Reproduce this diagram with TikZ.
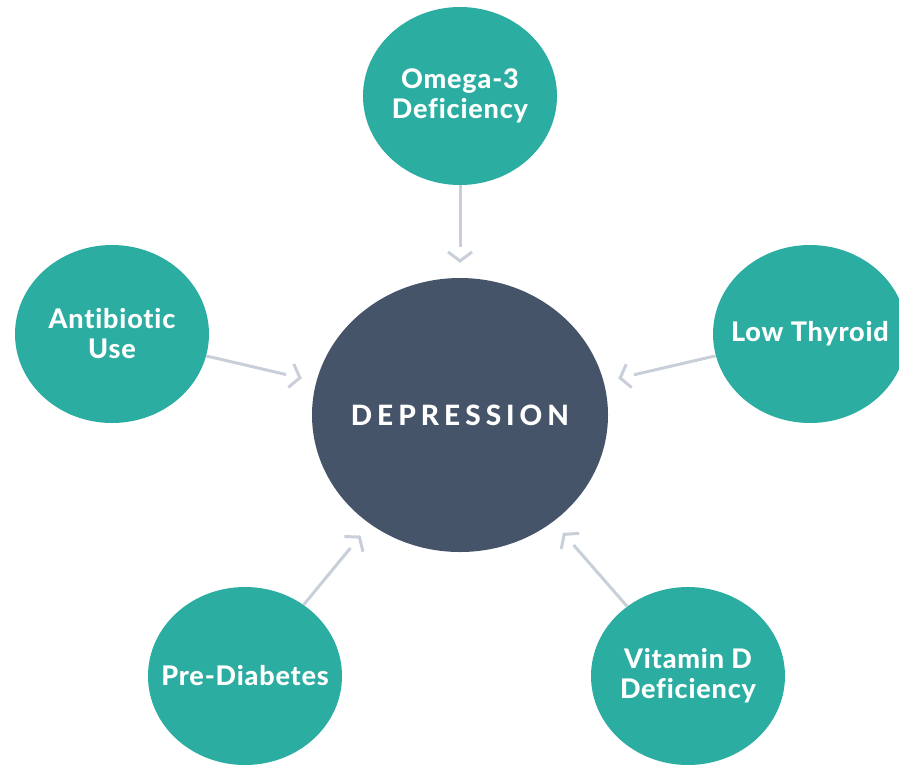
\documentclass[tikz,border=0pt]{standalone}
\usepackage{fontspec}
\setmainfont{Lato}[BoldFont={Lato Heavy}, Ligatures={NoCommon}]
\usetikzlibrary{arrows.meta,shapes.geometric,calc}
\definecolor{teal}{HTML}{2BADA1}
\definecolor{slate}{HTML}{465469}
\definecolor{arrowc}{HTML}{C8CFD9}
\begin{document}
\begin{tikzpicture}[x=1pt,y=-1pt,
  causetext/.style={text=white, font=\bfseries\fontsize{27}{30}\selectfont\addfontfeature{LetterSpace=3}, align=center, inner sep=0pt},
  coretext/.style={text=white, font=\bfseries\fontsize{28}{30}\selectfont\addfontfeature{LetterSpace=18}, inner sep=0pt},
  cause/.style={ellipse, fill=teal, minimum width=194pt, minimum height=178pt, inner sep=0pt,
    label={[causetext]center:#1}},
  core/.style={ellipse, fill=slate, minimum width=296pt, minimum height=274pt, inner sep=0pt,
    label={[coretext]center:#1}},
  linkline/.style={draw=arrowc, line width=3pt},
  chevron/.style={draw=arrowc, line width=3pt,
    -{Straight Barb[length=9pt, width=24pt, line width=3pt]}}]
\useasboundingbox (0,0) rectangle (899,764);
\node[core={DEPRESSION}] (dep) at (460,415) {};
\node[cause={Omega-3\\Deficiency}] (omega) at (460,96) {};
\node[cause={Antibiotic\\Use}] (anti) at (112,334) {};
\node[cause={Low Thyroid}] (thy) at (810,334) {};
\node[cause={Pre-Diabetes}] (pre) at (245,676) {};
\node[cause={Vitamin D\\Deficiency}] (vit) at (688,676) {};
\foreach \src/\k in {omega/1, anti/2, thy/3, pre/4, vit/5}{
  \path (\src) -- (dep) coordinate[pos=1] (e\k);
  \coordinate (l\k) at ($(e\k)!31pt!(\src)$);
  \coordinate (t\k) at ($(e\k)!15pt!(\src)$);
  \coordinate (b\k) at ($(e\k)!15.5pt!(\src)$);
  \draw[linkline] (\src) -- (l\k);
  \draw[chevron] (b\k) -- (t\k);
}
\end{tikzpicture}
\end{document}
